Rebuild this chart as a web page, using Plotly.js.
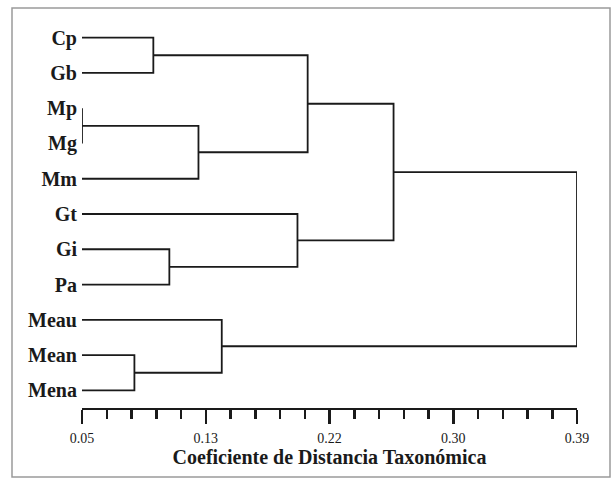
<!DOCTYPE html>
<html>
<head>
<meta charset="utf-8">
<script src="https://cdn.plot.ly/plotly-3.0.1.min.js"></script>
<style>html,body{margin:0;padding:0;background:#fff}#chart{width:614px;height:485px}</style>
</head>
<body>
<div id="chart"></div>
<script>
// Leaves, top to bottom
const leaves = ["Cp", "Gb", "Mp", "Mg", "Mm", "Gt", "Gi", "Pa", "Meau", "Mean", "Mena"];
// Linkage: node ids 0..10 are leaves, 11.. are clusters in merge order
const mergeA = [0, 2, 12, 11, 6, 5, 14, 9, 8, 17];
const mergeB = [1, 3, 4, 13, 7, 15, 16, 10, 18, 19];
const mergeHeight = [0.099, 0.050, 0.130, 0.205, 0.110, 0.198, 0.264, 0.086, 0.146, 0.390];
// Axis ticks
const tickValues = [0.05, 0.135, 0.22, 0.305, 0.39];
const tickLabels = ["0.05", "0.13", "0.22", "0.30", "0.39"];
const minorStep = 0.017;
const axisTitle = "Coeficiente de Distancia Taxonómica";

const axisMin = tickValues[0], axisMax = tickValues[tickValues.length - 1];
const nodeX = [], nodeY = [];
leaves.forEach((l, i) => { nodeX.push(axisMin); nodeY.push(i); });
const xs = [], ys = [];
for (let k = 0; k < mergeA.length; k++) {
  const a = mergeA[k], b = mergeB[k], h = mergeHeight[k];
  xs.push(nodeX[a], h, h, nodeX[b], null);
  ys.push(nodeY[a], nodeY[a], nodeY[b], nodeY[b], null);
  nodeX.push(h);
  nodeY.push((nodeY[a] + nodeY[b]) / 2);
}

const serif = "Liberation Serif, Times New Roman, serif";
const trace = {
  x: xs, y: ys, type: "scatter", mode: "lines",
  line: {color: "#1a1a1a", width: 1.8},
  cliponaxis: false, hoverinfo: "skip", showlegend: false
};

// plot area in pixels: x 82..577, y 20..408
const L = 82, R = 614 - 577, T = 20, B = 485 - 408;
const pw = 614 - L - R, ph = 485 - T - B;
const px = v => (v - L) / pw, py = v => (485 - B - v) / ph;

const layout = {
  width: 614, height: 485,
  margin: {l: L, r: R, t: T, b: B, pad: 0},
  paper_bgcolor: "#ffffff", plot_bgcolor: "rgba(0,0,0,0)",
  showlegend: false,
  xaxis: {
    range: [axisMin, axisMax], showgrid: false, zeroline: false,
    showline: true, linecolor: "#1a1a1a", linewidth: 2.2,
    tickmode: "array", tickvals: tickValues, ticktext: tickLabels,
    ticks: "outside", ticklen: 14, tickwidth: 2.5, tickcolor: "#1a1a1a",
    minor: {dtick: minorStep, tick0: axisMin, ticks: "outside", ticklen: 9, tickwidth: 2.5, tickcolor: "#1a1a1a", showgrid: false},
    ticklabelstandoff: 2,
    tickfont: {family: serif, size: 14, color: "#1a1a1a"},
    title: {text: "<b>" + axisTitle + "</b>", font: {family: serif, size: 20, color: "#1a1a1a"}, standoff: 4},
    fixedrange: true
  },
  yaxis: {
    range: [leaves.length - 0.5, -0.5], showgrid: false, zeroline: false, showline: false,
    tickmode: "array", tickvals: leaves.map((l, i) => i), ticktext: leaves.map(l => "<b>" + l + "</b>"),
    ticks: "", ticklabelstandoff: 4,
    tickfont: {family: serif, size: 20, color: "#1a1a1a"},
    fixedrange: true
  },
  shapes: [{
    type: "rect", xref: "paper", yref: "paper",
    x0: px(12), x1: px(610), y0: py(477), y1: py(8),
    line: {color: "#9a9a9a", width: 1.5}, layer: "below"
  }]
};

Plotly.newPlot("chart", [trace], layout, {staticPlot: true, displayModeBar: false});
</script>
</body>
</html>
